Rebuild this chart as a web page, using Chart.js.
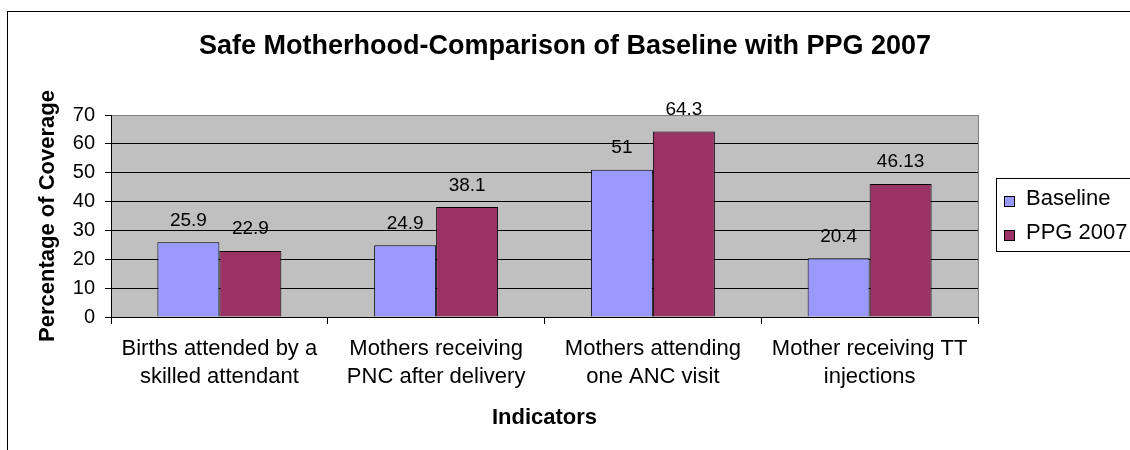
<!DOCTYPE html>
<html>
<head>
<meta charset="utf-8">
<script src="https://cdn.jsdelivr.net/npm/chart.js@4.4.1/dist/chart.umd.min.js"></script>
<style>
  html, body { margin: 0; padding: 0; background: #fff; }
  #wrap { width: 1130px; height: 450px; }
</style>
</head>
<body>
<div id="wrap"><canvas id="c" width="1130" height="450"></canvas></div>
<script>
const categories = [
  ["Births attended by a", "skilled attendant"],
  ["Mothers receiving", "PNC after delivery"],
  ["Mothers attending", "one ANC visit"],
  ["Mother receiving TT", "injections"]
];
const baseline = [25.9, 24.9, 51, 20.4];
const ppg2007 = [22.9, 38.1, 64.3, 46.13];
const seriesNames = ["Baseline", "PPG 2007"];
const yTicks = [0, 10, 20, 30, 40, 50, 60, 70];

const FONT = "'Liberation Sans', Arial, sans-serif";
Chart.defaults.color = '#000';
Chart.defaults.font.family = FONT;

const plotBg = {
  id: 'plotBg',
  beforeDraw(chart) {
    const {ctx, chartArea: a} = chart;
    ctx.save();
    ctx.fillStyle = '#C0C0C0';
    ctx.fillRect(a.left, a.top, a.right - a.left, a.bottom - a.top);
    ctx.restore();
  },
  afterDraw(chart) {
    const {ctx, chartArea: a} = chart;
    ctx.save();
    // plot right border
    ctx.strokeStyle = '#808080';
    ctx.lineWidth = 1;
    ctx.beginPath();
    ctx.moveTo(Math.round(a.right) + 0.5, a.top);
    ctx.lineTo(Math.round(a.right) + 0.5, a.bottom);
    ctx.stroke();
    // outer chart border
    ctx.strokeStyle = '#000';
    ctx.strokeRect(7.5, 11.5, 1300, 1000);
    ctx.restore();
  }
};

const dataLabels = {
  id: 'dataLabels',
  afterDatasetsDraw(chart) {
    const {ctx} = chart;
    ctx.save();
    ctx.font = "19px " + FONT;
    ctx.fillStyle = '#000';
    ctx.textAlign = 'center';
    ctx.textBaseline = 'alphabetic';
    chart.data.datasets.forEach((ds, di) => {
      const meta = chart.getDatasetMeta(di);
      meta.data.forEach((bar, i) => {
        ctx.fillText(String(ds.data[i]), bar.x, bar.y - 16.5);
      });
    });
    ctx.restore();
  }
};

const boxLegend = {
  id: 'boxLegend',
  afterDraw(chart) {
    const {ctx} = chart;
    const left = 996.5, top = 178.5, bottom = 251.5;
    ctx.save();
    ctx.strokeStyle = '#000';
    ctx.lineWidth = 1;
    ctx.strokeRect(left, top, 200, bottom - top);
    ctx.font = "22px " + FONT;
    ctx.textAlign = 'left';
    ctx.textBaseline = 'alphabetic';
    const baselines = [205, 239];
    chart.data.datasets.forEach((ds, i) => {
      const by = baselines[i];
      ctx.fillStyle = ds.backgroundColor;
      ctx.fillRect(1004, by - 9, 10, 10);
      ctx.strokeStyle = '#000';
      ctx.strokeRect(1004.5, by - 8.5, 10, 10);
      ctx.fillStyle = '#000';
      ctx.fillText(ds.label, 1026, by);
    });
    ctx.restore();
  }
};

new Chart(document.getElementById('c'), {
  type: 'bar',
  data: {
    labels: categories,
    datasets: [
      { label: seriesNames[0], data: baseline, backgroundColor: '#9999FF', borderColor: '#000', borderWidth: 1,
        categoryPercentage: 0.572, barPercentage: 1.0 },
      { label: seriesNames[1], data: ppg2007, backgroundColor: '#993366', borderColor: '#000', borderWidth: 1,
        categoryPercentage: 0.572, barPercentage: 1.0 }
    ]
  },
  options: {
    responsive: false,
    animation: false,
    devicePixelRatio: 1,
    layout: { padding: 0 },
    plugins: {
      legend: { display: false },
      tooltip: { enabled: false },
      title: {
        display: true,
        text: 'Safe Motherhood-Comparison of Baseline with PPG 2007',
        color: '#000',
        font: { family: FONT, size: 27, weight: 'bold', lineHeight: 1.2 },
        padding: { top: 30, bottom: 52.6 }
      }
    },
    scales: {
      x: {
        grid: { display: true, drawOnChartArea: false, drawTicks: true, tickLength: 7, color: '#000', offset: true },
        border: { display: true, color: '#000', width: 1 },
        ticks: { color: '#000', font: { family: FONT, size: 22, lineHeight: '28px' }, padding: 11, maxRotation: 0, minRotation: 0, autoSkip: false },
        title: { display: true, text: 'Indicators', color: '#000',
          font: { family: FONT, size: 22, weight: 'bold', lineHeight: 1.2 }, padding: { top: 0, bottom: 18.8 } },
        afterFit(scale) { scale.height = 133; }
      },
      y: {
        min: 0, max: 70,
        afterBuildTicks(scale) { scale.ticks = yTicks.map(v => ({ value: v })); },
        grid: {
          color: (c) => (c.tick && c.tick.value === 70 ? '#808080' : '#000'),
          tickColor: '#000', tickLength: 6, lineWidth: 1
        },
        border: { display: true, color: '#000', width: 1 },
        ticks: { color: '#000', font: { family: FONT, size: 20 }, padding: 10 },
        title: { display: true, text: 'Percentage of Coverage', color: '#000',
          font: { family: FONT, size: 22, weight: 'bold', lineHeight: 1.2 }, padding: { top: 35, bottom: 0 } },
        afterFit(scale) { scale.width = 111; }
      },
      spacer: {
        type: 'linear', axis: 'y', position: 'right', display: true,
        grid: { display: false, drawTicks: false }, border: { display: false },
        ticks: { display: false },
        afterFit(scale) { scale.width = 152; }
      }
    }
  },
  plugins: [plotBg, dataLabels, boxLegend]
});
</script>
</body>
</html>
